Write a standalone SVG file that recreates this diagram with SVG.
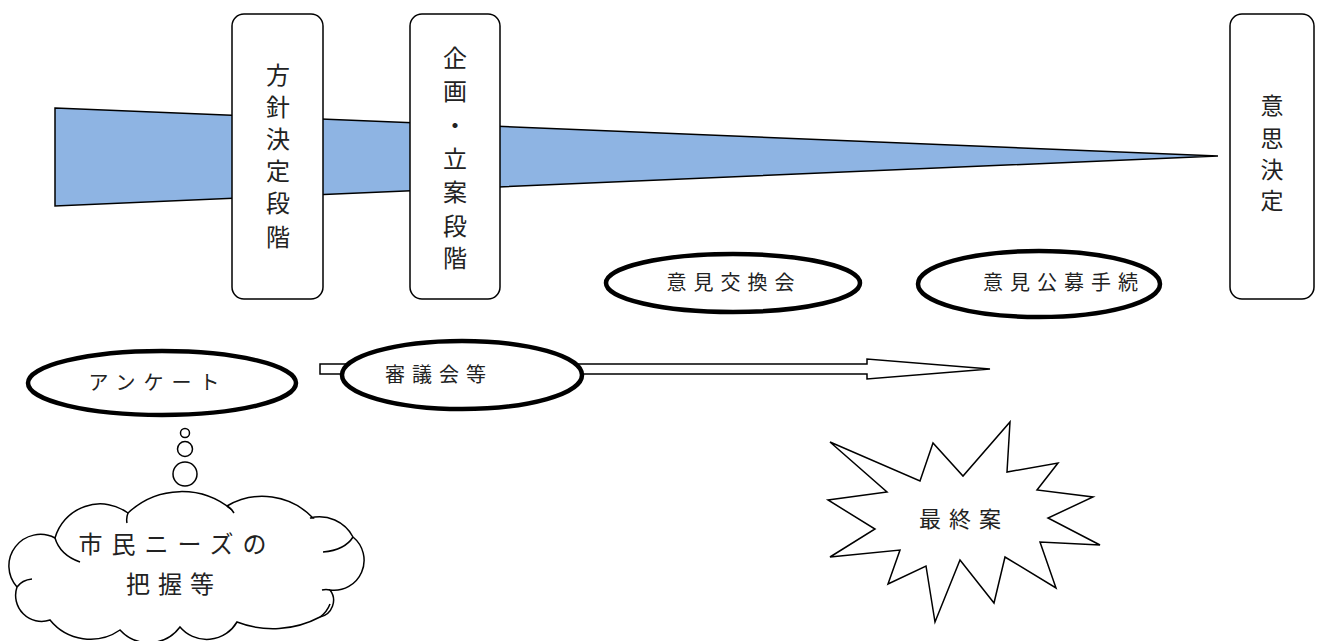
<svg xmlns="http://www.w3.org/2000/svg" width="1319" height="641" viewBox="0 0 1319 641">
<style>
.t{font-family:"Noto Sans CJK JP","Noto Sans",sans-serif;fill:#222;}
.box{fill:#fff;stroke:#000;stroke-width:1.5;}
.ell{fill:#fff;stroke:#000;stroke-width:4.5;}
.thin{fill:#fff;stroke:#000;stroke-width:1.5;}
.hook{fill:none;stroke:#000;stroke-width:1.5;}
</style>
<rect width="1319" height="641" fill="#fff"/>
<g id="wedge">
<polygon points="55,108 1218,156 55,206" fill="#8EB4E3" stroke="#000" stroke-width="1.5"/>
</g>
<g id="node-houshin">
<rect class="box" x="232" y="14" width="91" height="285" rx="12"/>
<text class="t" font-size="24" text-anchor="middle">
<tspan x="278" y="84">方</tspan><tspan x="278" y="116">針</tspan><tspan x="278" y="148">決</tspan><tspan x="278" y="180">定</tspan><tspan x="278" y="212">段</tspan><tspan x="278" y="246">階</tspan>
</text>
</g>
<g id="node-kikaku">
<rect class="box" x="410" y="14" width="90" height="285" rx="12"/>
<text class="t" font-size="24" text-anchor="middle">
<tspan x="455" y="67">企</tspan><tspan x="455" y="100">画</tspan><tspan x="455" y="134">・</tspan><tspan x="455" y="168">立</tspan><tspan x="455" y="201">案</tspan><tspan x="455" y="235">段</tspan><tspan x="455" y="267">階</tspan>
</text>
</g>
<g id="node-ishi">
<rect class="box" x="1230" y="14" width="84" height="285" rx="12"/>
<text class="t" font-size="23" text-anchor="middle">
<tspan x="1272" y="114">意</tspan><tspan x="1272" y="147">思</tspan><tspan x="1272" y="178">決</tspan><tspan x="1272" y="209">定</tspan>
</text>
</g>
<g id="connectors">
<polygon class="thin" points="320,364 867,364 867,359 990,369 867,379 867,374 320,374"/>
</g>
<g id="node-ikenkoukan">
<ellipse class="ell" cx="733" cy="283" rx="127" ry="29"/>
<text class="t" font-size="20" x="734" y="290" text-anchor="middle" letter-spacing="7">意見交換会</text>
</g>
<g id="node-ikenkoubo">
<ellipse class="ell" cx="1039" cy="284" rx="121" ry="33"/>
<text class="t" font-size="20" x="1064" y="290" text-anchor="middle" letter-spacing="7">意見公募手続</text>
</g>
<g id="node-anketo">
<ellipse class="ell" cx="162" cy="383" rx="134" ry="32"/>
<text class="t" font-size="20" x="158" y="390" text-anchor="middle" letter-spacing="8">アンケート</text>
</g>
<g id="node-shingikai">
<ellipse class="ell" cx="462" cy="375" rx="120" ry="34"/>
<text class="t" font-size="20" x="439" y="382" text-anchor="middle" letter-spacing="7">審議会等</text>
</g>
<g id="bubbles">
<circle class="thin" cx="185" cy="433" r="4.5"/>
<circle class="thin" cx="185" cy="449" r="7.5"/>
<circle class="thin" cx="185" cy="474" r="12"/>
</g>
<g id="node-cloud">
<path class="thin" d="M55,538 A47,47 0 0 1 128,513 A78,78 0 0 1 232,510 L227,506 A70,70 0 0 1 313,518 L310,518 A38,38 0 0 1 353,537 A30,30 0 0 1 330,590 A17,17 0 0 1 320,617 A100,100 0 0 1 237,622 A35,35 0 0 1 180,627 A39,39 0 0 1 120,630 A52,52 0 0 1 50,620 A26,26 0 0 1 17,587 A31.5,31.5 0 0 1 55,538 Z"/>
<path class="hook" d="M55,538 Q60,555 80,562 M353,537 Q345,550 323,552 M17,587 Q22,580 32,579 M128,513 Q126,518 127,523 M227,506 Q231,508 234,513 M320,617 Q327,612 330,604 M330,590 Q326,589 322,590"/>
<text class="t" font-size="24" x="177" y="553" text-anchor="middle" letter-spacing="9">市民ニーズの</text>
<text class="t" font-size="24" x="174" y="593" text-anchor="middle" letter-spacing="8">把握等</text>
</g>
<g id="node-saishuan">
<polygon class="thin" points="830,442 920,481 933,443 963,476 1010,422 1007,472 1058,463 1037,490 1093,497 1048,518 1100,545 1040,542 1056,588 1005,557 994,603 960,560 935,622 926,566 888,584 900,550 830,557 875,529 828,500 887,492"/>
<text class="t" font-size="22" x="964" y="527" text-anchor="middle" letter-spacing="8">最終案</text>
</g>
</svg>
